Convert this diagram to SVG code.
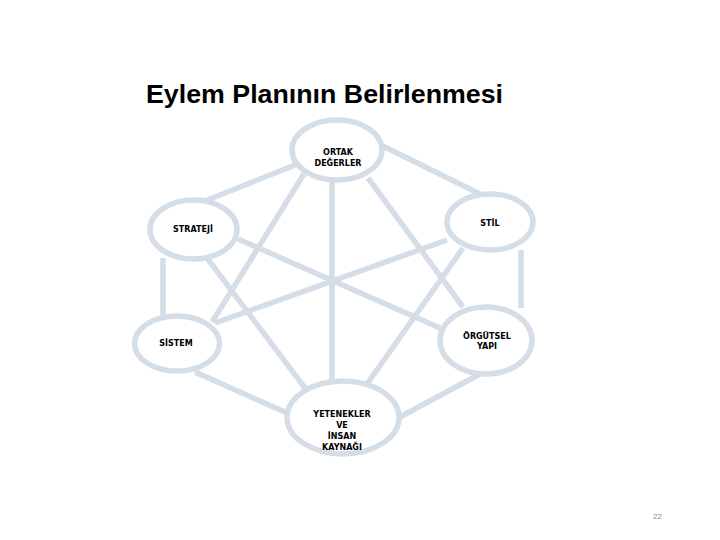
<svg xmlns="http://www.w3.org/2000/svg" width="720" height="540" viewBox="0 0 720 540">
<style>
.c line{stroke:#d5dde7;stroke-width:5.5;stroke-linecap:butt}
.n ellipse{fill:#ffffff;stroke:#d5dde7;stroke-width:5.5}
.n text{font-family:"DejaVu Sans",sans-serif;font-weight:bold;font-size:8px;fill:#000;text-anchor:middle}
.t{font-family:"Liberation Sans",Arial,sans-serif;font-weight:bold;font-size:26px;fill:#000}
.p{font-family:"Liberation Sans",Arial,sans-serif;font-size:8px;fill:#888}
</style>
<rect width="720" height="540" fill="#ffffff"/>
<text class="t" x="146" y="103" textLength="357" lengthAdjust="spacingAndGlyphs">Eylem Planının Belirlenmesi</text>
<g id="connectors" class="c">
<line x1="295" y1="165" x2="205" y2="201"/>
<line x1="383" y1="146" x2="480" y2="194"/>
<line x1="332" y1="180" x2="332" y2="382"/>
<line x1="304" y1="174" x2="212" y2="322"/>
<line x1="368" y1="178" x2="463" y2="307"/>
<line x1="163" y1="258" x2="163" y2="316"/>
<line x1="207" y1="258" x2="305" y2="388"/>
<line x1="238" y1="239" x2="440" y2="328"/>
<line x1="447" y1="240" x2="215" y2="323"/>
<line x1="463" y1="248" x2="367" y2="384"/>
<line x1="521" y1="250" x2="521" y2="308"/>
<line x1="195" y1="372" x2="287" y2="413"/>
<line x1="480" y1="374" x2="400" y2="417"/>
</g>
<g id="ortak" class="n">
<ellipse cx="337" cy="150" rx="45" ry="30"/>
<text x="338" y="155">ORTAK</text>
<text x="338" y="166">DEĞERLER</text>
</g>
<g id="strateji" class="n">
<ellipse cx="193.5" cy="229.5" rx="43.5" ry="29.5"/>
<text x="193" y="232">STRATEJİ</text>
</g>
<g id="stil" class="n">
<ellipse cx="490" cy="222" rx="43" ry="28"/>
<text x="490" y="226">STİL</text>
</g>
<g id="sistem" class="n">
<ellipse cx="177" cy="343.5" rx="42.5" ry="27.5"/>
<text x="176" y="346">SİSTEM</text>
</g>
<g id="orgutsel" class="n">
<ellipse cx="486" cy="340.5" rx="46" ry="33.5"/>
<text x="487" y="339">ÖRGÜTSEL</text>
<text x="487" y="349">YAPI</text>
</g>
<g id="yetenekler" class="n">
<ellipse cx="343" cy="417.5" rx="56" ry="36.5"/>
<text x="342" y="417">YETENEKLER</text>
<text x="342" y="428">VE</text>
<text x="342" y="439">İNSAN</text>
<text x="342" y="450">KAYNAĞI</text>
</g>
<text class="p" x="653" y="519">22</text>
</svg>
